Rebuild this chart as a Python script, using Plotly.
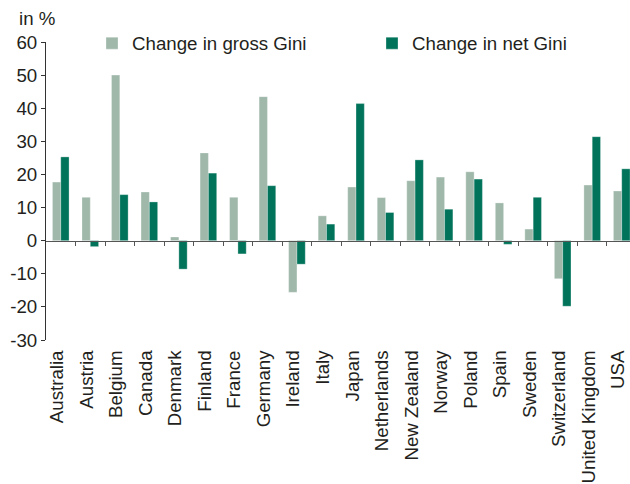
import plotly.graph_objects as go

countries = ["Australia", "Austria", "Belgium", "Canada", "Denmark", "Finland", "France",
             "Germany", "Ireland", "Italy", "Japan", "Netherlands", "New Zealand", "Norway",
             "Poland", "Spain", "Sweden", "Switzerland", "United Kingdom", "USA"]
gross_gini = [17.7, 13.1, 50.0, 14.7, 1.1, 26.5, 13.1, 43.5, -15.6, 7.5, 16.2, 13.0,
              18.1, 19.2, 20.8, 11.4, 3.5, -11.5, 16.8, 15.0]
net_gini = [25.3, -1.8, 13.9, 11.7, -8.6, 20.4, -4.0, 16.6, -7.1, 5.0, 41.4, 8.5,
            24.4, 9.5, 18.6, -1.1, 13.1, -19.8, 31.4, 21.7]
y_tick_vals = [-30, -20, -10, 0, 10, 20, 30, 40, 50, 60]
y_tick_text = ["-30", "-20", "-10", "0", "10", "20", "30", "40", "50", "60"]
boundary_ticks = [i + 0.5 for i in range(len(countries) - 1)]
label_positions = list(range(len(countries)))

FONT = "Liberation Sans, Arial, sans-serif"
FS = 18.7
TXT = "#231f20"
GROSS = "#9fb8aa"
NET = "#00735a"

fig = go.Figure()
fig.add_trace(go.Bar(x=countries, y=gross_gini, name="Change in gross Gini",
                     marker=dict(color=GROSS, line=dict(color="rgba(255,255,255,0.6)", width=0.5)),
                     legend="legend"))
fig.add_trace(go.Bar(x=countries, y=net_gini, name="Change in net Gini",
                     marker=dict(color=NET, line=dict(color="rgba(255,255,255,0.6)", width=0.5)),
                     legend="legend2"))

W, H = 630, 484
ml, mr, mt, mb = 46, 0, 42, 144
pw = W - ml - mr
ph = H - mt - mb
XR = [-0.5, 19.28]
LBL_SHIFT = 0.12  # category labels sit slightly left of the bar-group centres

fig.update_layout(
    width=W, height=H,
    margin=dict(l=ml, r=mr, t=mt, b=mb, pad=0, autoexpand=False),
    paper_bgcolor="white", plot_bgcolor="white",
    font=dict(family=FONT, size=FS, color=TXT),
    barmode="group", bargap=0.437, bargroupgap=0,
    xaxis=dict(type="category", range=XR, showline=False, ticks="",
               showticklabels=False, showgrid=False, zeroline=False, automargin=False),
    xaxis2=dict(overlaying="x", anchor="free", position=1/3, range=XR,
                tickvals=boundary_ticks, showticklabels=False, ticks="outside",
                ticklen=4, tickcolor="#555555", showline=True, linecolor="#555555",
                linewidth=1, showgrid=False, zeroline=False),
    xaxis3=dict(overlaying="x", anchor="y", side="bottom",
                range=[XR[0] + LBL_SHIFT, XR[1] + LBL_SHIFT],
                tickvals=label_positions, ticktext=countries, tickangle=-90,
                ticks="outside", ticklen=2, tickcolor="rgba(0,0,0,0)",
                showline=False, showgrid=False, zeroline=False, automargin=False,
                tickfont=dict(family=FONT, size=FS, color=TXT)),
    yaxis=dict(range=[-30, 60], tickvals=y_tick_vals, ticktext=y_tick_text,
               ticks="outside", ticklen=4, tickcolor="#333333", showline=True,
               linecolor="#333333", linewidth=1, showgrid=False, zeroline=False,
               automargin=False, tickfont=dict(family=FONT, size=FS, color=TXT)),
    legend=dict(x=(92 - ml) / pw, y=1 - 1.5 / ph, xanchor="left", yanchor="middle",
                bgcolor="rgba(0,0,0,0)", font=dict(size=FS, color=TXT)),
    legend2=dict(x=(372 - ml) / pw, y=1 - 1.5 / ph, xanchor="left", yanchor="middle",
                 bgcolor="rgba(0,0,0,0)", font=dict(size=FS, color=TXT)),
    annotations=[dict(text="in %", xref="paper", yref="paper", x=(17 - ml) / pw,
                      y=1 + (mt - 18) / ph, xanchor="left", yanchor="middle",
                      showarrow=False, font=dict(size=FS, color=TXT))],
)
# invisible helpers so the overlay axes are drawn
for ax in ("x2", "x3"):
    fig.add_trace(go.Scatter(x=[0], y=[0], xaxis=ax, mode="markers",
                             marker=dict(opacity=0), showlegend=False, hoverinfo="skip"))

# remove the default page margin so the 630x484 figure fills the window exactly
fig.write_html("out.html", config={"displayModeBar": False},
               post_script="document.body.style.margin='0';document.body.style.overflow='hidden';")
